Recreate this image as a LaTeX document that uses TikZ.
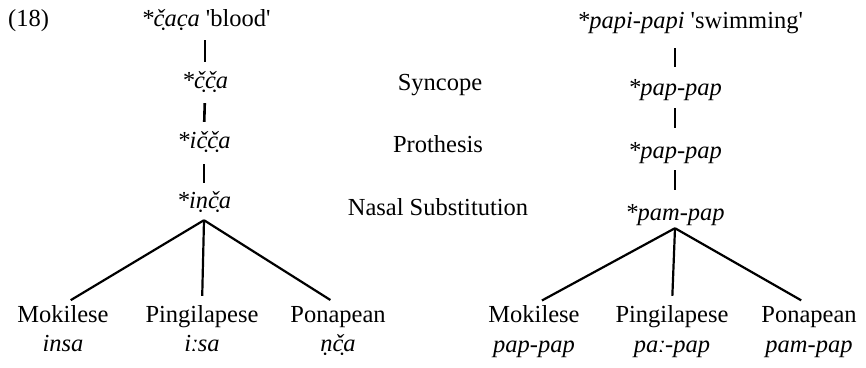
\documentclass[tikz,border=0pt]{standalone}
\usepackage{fontspec}
\setmainfont{Liberation Serif}
\tikzset{
  lab/.style={font=\fontsize{24.5}{28}\selectfont, inner sep=0pt, anchor=base, text height=17pt, text depth=6pt},
  form/.style={lab, font=\fontsize{24.5}{28}\selectfont\itshape},
  seg/.style={line width=2.6pt},
  branch/.style={line width=2.2pt},
}
\begin{document}
\begin{tikzpicture}[x=1pt,y=-1pt]
\useasboundingbox (0,0) rectangle (866,367);
% left tree
\node[lab, anchor=base west] (n18) at (8,26) {(18)};
\node[lab] (tl) at (206,26) {\textit{*č̣ac̣a} \textquotesingle blood\textquotesingle};
\node[form] (l1) at (205,88) {*č̣č̣a};
\node[form] (l2) at (204,148) {*ič̣č̣a};
\node[form] (l3) at (204,208) {*iṇč̣a};
\coordinate (la) at ([yshift=-6pt]l3.south);
\node[lab] (mk1) at (63,322) {Mokilese};
\node[lab] (pg1) at (202,322) {Pingilapese};
\node[lab] (pn1) at (338,322) {Ponapean};
\node[form] (mk1f) at (63,351) {insa};
\node[form] (pg1f) at (202,351) {iːsa};
\node[form] (pn1f) at (338,351) {ṇč̣a};
% rule labels
\node[lab] (syn) at (440,90) {Syncope};
\node[lab] (pro) at (438,152) {Prothesis};
\node[lab] (nas) at (438,215) {Nasal Substitution};
% right tree
\node[lab] (rt) at (690,28) {\textit{*papi-papi} \textquotesingle swimming\textquotesingle};
\node[form] (r1) at (675,95) {*pap-pap};
\node[form] (r2) at (675,158) {*pap-pap};
\node[form] (r3) at (675,220) {*pam-pap};
\coordinate (ra) at ([yshift=-2pt]r3.south);
\node[lab] (mk2) at (534,322) {Mokilese};
\node[lab] (pg2) at (672,322) {Pingilapese};
\node[lab] (pn2) at (809,322) {Ponapean};
\node[form] (mk2f) at (534,352) {pap-pap};
\node[form] (pg2f) at (672,352) {paː-pap};
\node[form] (pn2f) at (809,352) {pam-pap};
% connectors left
\draw[seg, shorten <=8pt, shorten >=9pt] (tl.south -| l1.base) -- (l1.north);
\draw[seg, shorten <=9pt, shorten >=9pt] (l1.south) -- (l2.north);
\draw[seg, shorten <=10pt, shorten >=8pt] (l2.south) -- (l3.north);
\draw[branch, shorten >=9pt] (la) -- (mk1.north);
\draw[branch, shorten >=9pt] (la) -- (pg1.north);
\draw[branch, shorten >=9pt] (la) -- (pn1.north);
% connectors right
\draw[seg, shorten <=14pt, shorten >=11pt] (rt.south -| r1.base) -- (r1.north);
\draw[seg, shorten <=7pt, shorten >=13pt] (r1.south) -- (r2.north);
\draw[seg, shorten <=6pt, shorten >=13pt] (r2.south) -- (r3.north);
\draw[branch, shorten >=9pt] (ra) -- (mk2.north);
\draw[branch, shorten >=9pt] (ra) -- (pg2.north);
\draw[branch, shorten >=9pt] (ra) -- (pn2.north);
\end{tikzpicture}
\end{document}
